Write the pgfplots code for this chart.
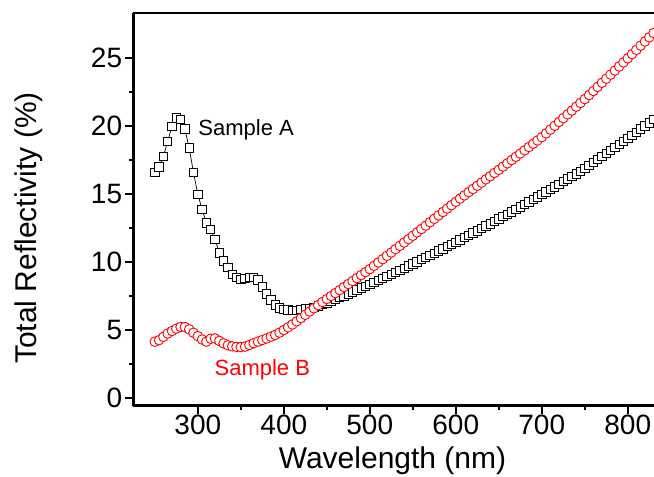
\documentclass[border=0pt]{standalone}
\usepackage{pgfplots}
\usepackage{pgfplotstable}
\pgfplotsset{compat=1.18}
\usepackage{fontspec}
\setmainfont{Liberation Sans}

\pgfplotstableread{
lam A B
250 16.6 4.16
255 17.0 4.28
260 17.8 4.52
265 18.9 4.76
270 20.0 4.95
275 20.6 5.12
280 20.5 5.25
285 19.8 5.24
290 18.4 5.07
295 16.6 4.82
300 15.0 4.57
305 13.9 4.32
310 12.9 4.17
315 12.4 4.38
320 11.7 4.40
325 10.7 4.22
330 10.1 4.04
335 9.6 3.90
340 9.1 3.82
345 8.87 3.78
350 8.75 3.77
355 8.80 3.80
360 8.90 3.92
365 8.87 4.05
370 8.70 4.17
375 8.20 4.28
380 7.67 4.40
385 7.23 4.53
390 6.86 4.66
395 6.64 4.83
400 6.54 5.02
405 6.50 5.22
410 6.48 5.43
415 6.48 5.66
420 6.52 5.90
425 6.56 6.14
430 6.62 6.38
435 6.70 6.62
440 6.78 6.85
445 6.88 7.08
450 6.99 7.30
455 7.13 7.52
460 7.27 7.74
465 7.41 7.96
470 7.54 8.18
475 7.68 8.40
480 7.82 8.62
485 7.96 8.84
490 8.10 9.06
495 8.24 9.28
500 8.39 9.50
505 8.53 9.74
510 8.68 9.99
515 8.82 10.23
520 8.97 10.48
525 9.12 10.72
530 9.27 10.97
535 9.42 11.21
540 9.57 11.46
545 9.73 11.70
550 9.88 11.95
555 10.04 12.20
560 10.19 12.45
565 10.35 12.70
570 10.51 12.95
575 10.67 13.20
580 10.83 13.45
585 10.99 13.70
590 11.15 13.95
595 11.31 14.20
600 11.48 14.45
605 11.64 14.69
610 11.81 14.92
615 11.98 15.16
620 12.15 15.39
625 12.32 15.63
630 12.49 15.86
635 12.66 16.10
640 12.83 16.33
645 13.01 16.57
650 13.18 16.80
655 13.36 17.04
660 13.53 17.28
665 13.71 17.52
670 13.89 17.76
675 14.07 18.00
680 14.25 18.24
685 14.43 18.48
690 14.62 18.72
695 14.80 18.96
700 14.99 19.20
705 15.17 19.48
710 15.36 19.76
715 15.55 20.04
720 15.74 20.32
725 15.93 20.60
730 16.12 20.88
735 16.32 21.16
740 16.51 21.44
745 16.70 21.72
750 16.90 22.00
755 17.12 22.30
760 17.33 22.60
765 17.55 22.90
770 17.77 23.20
775 18.00 23.50
780 18.22 23.80
785 18.44 24.10
790 18.67 24.40
795 18.89 24.70
800 19.12 25.00
805 19.34 25.31
810 19.57 25.62
815 19.80 25.93
820 20.03 26.24
825 20.26 26.55
830 20.49 26.86
835 20.72 27.17
840 20.95 27.48
}\datatable

\begin{document}
\begin{tikzpicture}
\begin{axis}[
  at={(133.3bp,71.3bp)}, anchor=south west,
  scale only axis,
  width=520.7bp, height=392.4bp,
  xmin=225, xmax=830.5,
  ymin=-0.544, ymax=28.31,
  axis x line=box, axis y line=left,
  x axis line style={-, line width=2.4bp},
  y axis line style={-, line width=2.4bp},
  xtick pos=bottom, ytick pos=left,
  xtick={300,400,...,800},
  ytick={0,5,...,25},
  minor x tick num=1, minor y tick num=1,
  tick align=outside,
  major tick length=8bp, minor tick length=4.5bp,
  every tick/.style={black, line width=1.8bp},
  /pgf/number format/assume math mode=true,
  tick label style={font=\fontsize{28bp}{32bp}\selectfont},
  xticklabel style={inner sep=1bp},
  yticklabel style={inner sep=3bp},
  every axis x label/.style={at={(axis description cs:0.4978,-0.1588)}, anchor=base, font=\fontsize{30bp}{34bp}\selectfont},
  every axis y label/.style={at={(axis description cs:-0.2003,0.453)}, rotate=90, anchor=center, font=\fontsize{30bp}{34bp}\selectfont},
  xlabel={Wavelength (nm)},
  ylabel={Total Reflectivity (\%)},
]
\addplot[black, line width=0.7bp, mark=square*, mark size=4.2bp,
  mark options={fill=white, draw=black, line width=0.9bp, solid}]
  table[x=lam, y=A] {\datatable};
\addplot[red, line width=0.7bp, mark=*, mark size=4.8bp,
  mark options={fill=white, draw=red, line width=0.9bp, solid}]
  table[x=lam, y=B] {\datatable};
\node[anchor=base west, inner sep=0pt, font=\fontsize{22bp}{26bp}\selectfont] at (axis cs:300.5,19.3) {Sample A};
\node[anchor=base west, inner sep=0pt, text=red, font=\fontsize{22bp}{26bp}\selectfont] at (axis cs:319.3,1.71) {Sample B};
\end{axis}
\pgfresetboundingbox
\useasboundingbox (0,0) rectangle (654bp,477bp);
\end{tikzpicture}
\end{document}
